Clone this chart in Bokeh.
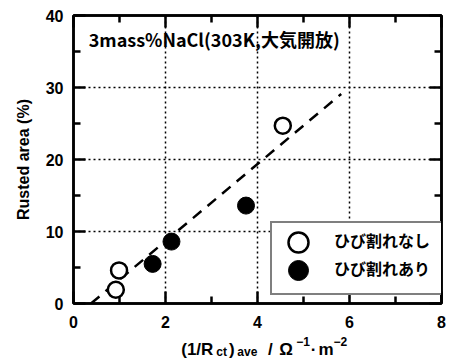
from bokeh.plotting import figure
from bokeh.layouts import column
from bokeh.models import (Range1d, LinearAxis, FixedTicker, CustomJSTickFormatter,
                          Legend, LegendItem, Label)
from bokeh.embed import file_html
from bokeh.resources import INLINE

# ---- data ----
no_crack_x = [0.92, 0.99, 4.55]
no_crack_y = [1.9, 4.6, 24.7]
crack_x = [1.72, 2.13, 3.75]
crack_y = [5.5, 8.6, 13.6]
fit_x = [0.38, 5.82]
fit_y = [0.0, 29.1]
x_ticks = [0, 2, 4, 6, 8]
x_minor = [1, 3, 5, 7]
y_ticks = [0, 10, 20, 30, 40]
y_minor = [5, 15, 25, 35]
x_grid = [2, 4, 6]
y_grid = [10, 20, 30]
title_text = "3mass%NaCl(303K,大気開放)"
y_label = "Rusted area (%)"
legend_labels = ["ひび割れなし", "ひび割れあり"]

LAT = "Liberation Sans"
JP = "Noto Sans CJK JP"

p = figure(width=460, height=330, x_range=Range1d(0, 8), y_range=Range1d(0, 40),
           output_backend="svg", toolbar_location=None,
           min_border_left=73, min_border_right=19, min_border_top=15, min_border_bottom=27)
p.background_fill_color = "white"
p.border_fill_color = "white"
p.outline_line_color = "black"
p.outline_line_width = 2.5

# grid
p.xgrid.ticker = FixedTicker(ticks=x_grid)
p.ygrid.ticker = FixedTicker(ticks=y_grid)
for g in (p.xgrid, p.ygrid):
    g.grid_line_color = "black"
    g.grid_line_dash = "2 3"
    g.grid_line_width = 1.5

def style_axis(ax, ticks, minor):
    ax.ticker = FixedTicker(ticks=ticks, minor_ticks=minor)
    ax.axis_line_color = "black"
    ax.axis_line_width = 2.5
    ax.major_tick_in = 12
    ax.major_tick_out = 0
    ax.minor_tick_in = 7
    ax.minor_tick_out = 0
    ax.major_tick_line_width = 2.5
    ax.minor_tick_line_width = 2.5
    ax.major_tick_line_color = "black"
    ax.minor_tick_line_color = "black"
    ax.major_label_text_font = LAT
    ax.major_label_text_font_style = "bold"
    ax.major_label_text_font_size = "16px"
    ax.major_label_text_color = "black"

style_axis(p.xaxis[0], x_ticks, x_minor)
style_axis(p.yaxis[0], y_ticks, y_minor)
p.xaxis.major_label_standoff = 12
p.yaxis.major_label_standoff = 10
p.yaxis.axis_label = y_label
p.yaxis.axis_label_text_font = LAT
p.yaxis.axis_label_text_font_style = "bold"
p.yaxis.axis_label_text_font_size = "16px"
p.yaxis.axis_label_standoff = 11
p.yaxis.axis_label_text_color = "black"

blank = CustomJSTickFormatter(code="return ''")
top = LinearAxis(formatter=blank, major_label_standoff=0)
right = LinearAxis(formatter=blank, major_label_standoff=0)
style_axis(top, x_ticks, x_minor)
style_axis(right, y_ticks, y_minor)
top.major_label_text_font_size = "1px"
right.major_label_text_font_size = "1px"
p.add_layout(top, "above")
p.add_layout(right, "right")

# fit line
p.line(fit_x, fit_y, line_color="black", line_width=2.5, line_dash="11 8")

r_open = p.scatter(no_crack_x, no_crack_y, marker="circle", size=16,
                   fill_color="white", line_color="black", line_width=2.5)
r_fill = p.scatter(crack_x, crack_y, marker="circle", size=17,
                   fill_color="black", line_color="black", line_width=1)

# title inside plot
p.add_layout(Label(x=0.33, y=36.7, text=title_text, text_font=JP, text_font_style="bold",
                   text_font_size="18px", text_baseline="middle", text_color="black"))

# legend: box + labels
leg = Legend(items=[LegendItem(label=legend_labels[0], renderers=[r_open]),
                    LegendItem(label=legend_labels[1], renderers=[r_fill])],
             location=(197, 8))
leg.glyph_width = 56
leg.glyph_height = 28
leg.label_height = 28
leg.label_width = 108
leg.label_standoff = 6
leg.spacing = 0
leg.padding = dict(left=0, right=0, top=3, bottom=11)
leg.margin = 0
leg.border_line_color = "black"
leg.border_line_width = 2.5
leg.background_fill_color = "white"
leg.background_fill_alpha = 1
leg.label_text_font = JP
leg.label_text_font_style = "bold"
leg.label_text_font_size = "16px"
leg.label_text_color = "black"
p.add_layout(leg)

# larger symbols laid over the legend rows
for rend, yloc in ((r_open, 36), (r_fill, 8)):
    big = Legend(items=[LegendItem(label="", renderers=[rend])], location=(197, yloc))
    big.glyph_width = 56
    big.glyph_height = 50
    big.label_width = 0
    big.label_standoff = 0
    big.spacing = 0
    big.padding = 0
    big.margin = 0
    big.border_line_color = None
    big.background_fill_alpha = 0
    big.label_text_font_size = "1px"
    p.add_layout(big)

# x axis label (separate strip beneath the plot)
q = figure(width=460, height=30, x_range=p.x_range, y_range=Range1d(0, 30),
           output_backend="svg", toolbar_location=None, x_axis_type=None, y_axis_type=None,
           min_border_left=73, min_border_right=19, min_border_top=0, min_border_bottom=0)
q.outline_line_color = None
q.xgrid.visible = False
q.ygrid.visible = False
q.background_fill_color = "white"
q.border_fill_color = "white"

def piece(x, y, t, size, align="center"):
    q.add_layout(Label(x=x, y=y, text=t, text_font=LAT, text_font_style="bold",
                       text_font_size=size, text_align=align,
                       text_baseline="alphabetic", text_color="black"))

base, sub, sup = 11.5, 8.5, 19
piece(3.04, base, "(1/R", "17px", "right")
piece(3.22, sub, "ct", "12px")
piece(3.44, base, ")", "17px")
piece(3.78, sub, "ave", "12px")
piece(4.28, base, "/", "17px")
piece(4.62, base, "Ω", "17px")
piece(4.99, sup, "−1", "12px")
piece(5.22, base, "·", "17px")
piece(5.49, base, "m", "17px")
piece(5.80, sup, "−2", "12px")

layout = column(p, q, spacing=0)
open("out.html", "w").write(file_html(layout, INLINE))
